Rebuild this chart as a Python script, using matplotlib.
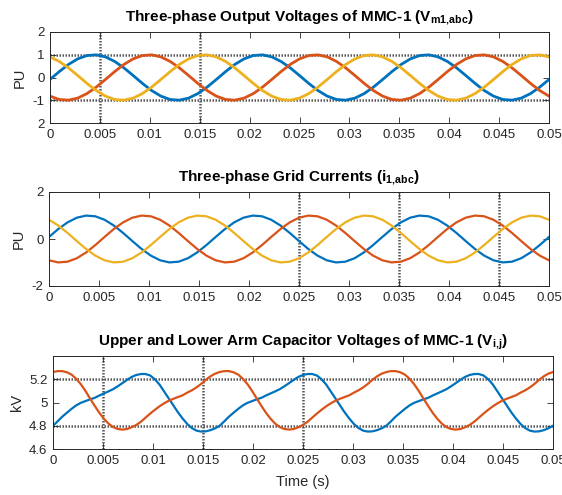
import numpy as np
import matplotlib
matplotlib.use("Agg")
import matplotlib.pyplot as plt

plt.rcParams["font.family"] = ["Liberation Sans", "DejaVu Sans"]
plt.rcParams["mathtext.fontset"] = "custom"
plt.rcParams["mathtext.rm"] = "Liberation Sans"
plt.rcParams["mathtext.bf"] = "Liberation Sans:bold"

# =========================
# DATA
# =========================
# sample times: 55 points over 0..0.05 s for the ac quantities
t_ac = np.linspace(0, 0.05, 55)
# 109 points over 0..0.05 s for the capacitor voltages
t_cap = np.linspace(0, 0.05, 109)

# MMC-1 output voltages (PU)
vm_a = [-0.087, 0.259, 0.574, 0.819, 0.966, 0.996, 0.906, 0.707, 0.423,
        0.087, -0.259, -0.574, -0.819, -0.966, -0.996, -0.906, -0.707, -0.423,
        -0.087, 0.259, 0.574, 0.819, 0.966, 0.996, 0.906, 0.707, 0.423,
        0.087, -0.259, -0.574, -0.819, -0.966, -0.996, -0.906, -0.707, -0.423,
        -0.087, 0.259, 0.574, 0.819, 0.966, 0.996, 0.906, 0.707, 0.423,
        0.087, -0.259, -0.574, -0.819, -0.966, -0.996, -0.906, -0.707, -0.423,
        -0.087]
vm_b = [-0.819, -0.966, -0.996, -0.906, -0.707, -0.423, -0.087, 0.259, 0.574,
        0.819, 0.966, 0.996, 0.906, 0.707, 0.423, 0.087, -0.259, -0.574,
        -0.819, -0.966, -0.996, -0.906, -0.707, -0.423, -0.087, 0.259, 0.574,
        0.819, 0.966, 0.996, 0.906, 0.707, 0.423, 0.087, -0.259, -0.574,
        -0.819, -0.966, -0.996, -0.906, -0.707, -0.423, -0.087, 0.259, 0.574,
        0.819, 0.966, 0.996, 0.906, 0.707, 0.423, 0.087, -0.259, -0.574,
        -0.819]
vm_c = [0.906, 0.707, 0.423, 0.087, -0.259, -0.574, -0.819, -0.966, -0.996,
        -0.906, -0.707, -0.423, -0.087, 0.259, 0.574, 0.819, 0.966, 0.996,
        0.906, 0.707, 0.423, 0.087, -0.259, -0.574, -0.819, -0.966, -0.996,
        -0.906, -0.707, -0.423, -0.087, 0.259, 0.574, 0.819, 0.966, 0.996,
        0.906, 0.707, 0.423, 0.087, -0.259, -0.574, -0.819, -0.966, -0.996,
        -0.906, -0.707, -0.423, -0.087, 0.259, 0.574, 0.819, 0.966, 0.996,
        0.906]

# grid currents (PU)
ig_a = [0.087, 0.423, 0.707, 0.906, 0.996, 0.966, 0.819, 0.574, 0.259,
        -0.087, -0.423, -0.707, -0.906, -0.996, -0.966, -0.819, -0.574, -0.259,
        0.087, 0.423, 0.707, 0.906, 0.996, 0.966, 0.819, 0.574, 0.259,
        -0.087, -0.423, -0.707, -0.906, -0.996, -0.966, -0.819, -0.574, -0.259,
        0.087, 0.423, 0.707, 0.906, 0.996, 0.966, 0.819, 0.574, 0.259,
        -0.087, -0.423, -0.707, -0.906, -0.996, -0.966, -0.819, -0.574, -0.259,
        0.087]
ig_b = [-0.906, -0.996, -0.966, -0.819, -0.574, -0.259, 0.087, 0.423, 0.707,
        0.906, 0.996, 0.966, 0.819, 0.574, 0.259, -0.087, -0.423, -0.707,
        -0.906, -0.996, -0.966, -0.819, -0.574, -0.259, 0.087, 0.423, 0.707,
        0.906, 0.996, 0.966, 0.819, 0.574, 0.259, -0.087, -0.423, -0.707,
        -0.906, -0.996, -0.966, -0.819, -0.574, -0.259, 0.087, 0.423, 0.707,
        0.906, 0.996, 0.966, 0.819, 0.574, 0.259, -0.087, -0.423, -0.707,
        -0.906]
ig_c = [0.819, 0.574, 0.259, -0.087, -0.423, -0.707, -0.906, -0.996, -0.966,
        -0.819, -0.574, -0.259, 0.087, 0.423, 0.707, 0.906, 0.996, 0.966,
        0.819, 0.574, 0.259, -0.087, -0.423, -0.707, -0.906, -0.996, -0.966,
        -0.819, -0.574, -0.259, 0.087, 0.423, 0.707, 0.906, 0.996, 0.966,
        0.819, 0.574, 0.259, -0.087, -0.423, -0.707, -0.906, -0.996, -0.966,
        -0.819, -0.574, -0.259, 0.087, 0.423, 0.707, 0.906, 0.996, 0.966,
        0.819]

# upper / lower arm capacitor voltages (kV)
vc_upper = [4.800, 4.838, 4.878, 4.912, 4.945, 4.975, 4.997, 5.012, 5.027, 5.040, 5.060, 5.078,
            5.096, 5.115, 5.140, 5.167, 5.195, 5.220, 5.237, 5.245, 5.245, 5.232, 5.200, 5.155,
            5.095, 5.035, 4.975, 4.915, 4.862, 4.815, 4.780, 4.758, 4.750, 4.752, 4.762, 4.778,
            4.800, 4.838, 4.878, 4.912, 4.945, 4.975, 4.997, 5.012, 5.027, 5.040, 5.060, 5.078,
            5.096, 5.115, 5.140, 5.167, 5.195, 5.220, 5.237, 5.245, 5.245, 5.232, 5.200, 5.155,
            5.095, 5.035, 4.975, 4.915, 4.862, 4.815, 4.780, 4.758, 4.750, 4.752, 4.762, 4.778,
            4.800, 4.838, 4.878, 4.912, 4.945, 4.975, 4.997, 5.012, 5.027, 5.040, 5.060, 5.078,
            5.096, 5.115, 5.140, 5.167, 5.195, 5.220, 5.237, 5.245, 5.245, 5.232, 5.200, 5.155,
            5.095, 5.035, 4.975, 4.915, 4.862, 4.815, 4.780, 4.758, 4.750, 4.752, 4.762, 4.778,
            4.800]
vc_lower = [5.262, 5.270, 5.270, 5.260, 5.240, 5.205, 5.158, 5.100, 5.035, 4.972, 4.912, 4.860,
            4.818, 4.788, 4.772, 4.767, 4.772, 4.787, 4.807, 4.835, 4.870, 4.905, 4.937, 4.967,
            4.993, 5.015, 5.032, 5.047, 5.062, 5.085, 5.105, 5.130, 5.160, 5.195, 5.225, 5.248,
            5.262, 5.270, 5.270, 5.260, 5.240, 5.205, 5.158, 5.100, 5.035, 4.972, 4.912, 4.860,
            4.818, 4.788, 4.772, 4.767, 4.772, 4.787, 4.807, 4.835, 4.870, 4.905, 4.937, 4.967,
            4.993, 5.015, 5.032, 5.047, 5.062, 5.085, 5.105, 5.130, 5.160, 5.195, 5.225, 5.248,
            5.262, 5.270, 5.270, 5.260, 5.240, 5.205, 5.158, 5.100, 5.035, 4.972, 4.912, 4.860,
            4.818, 4.788, 4.772, 4.767, 4.772, 4.787, 4.807, 4.835, 4.870, 4.905, 4.937, 4.967,
            4.993, 5.015, 5.032, 5.047, 5.062, 5.085, 5.105, 5.130, 5.160, 5.195, 5.225, 5.248,
            5.262]

# marker lines drawn on each panel
top_vlines = [0.005, 0.015]
top_hlines = [-1, 1]
mid_vlines = [0.025, 0.035, 0.045]
bot_vlines = [0.005, 0.015, 0.025]
bot_hlines = [4.8, 5.2]

x_ticks = [0, 0.005, 0.01, 0.015, 0.02, 0.025, 0.03, 0.035, 0.04, 0.045, 0.05]
x_ticklabels = ["0", "0.005", "0.01", "0.015", "0.02", "0.025", "0.03",
                "0.035", "0.04", "0.045", "0.05"]

C_BLUE = "#0072BD"
C_RED = "#D95319"
C_YEL = "#EDB120"
C_AX = "#262626"

W, H = 562, 495
fig = plt.figure(figsize=(W / 100, H / 100), dpi=100)


def px_axes(x0, y0, x1, y1):
    return fig.add_axes([x0 / W, 1 - y1 / H, (x1 - x0) / W, (y1 - y0) / H])


def style(ax):
    for s in ax.spines.values():
        s.set_color(C_AX)
        s.set_linewidth(0.7)
    ax.tick_params(direction="in", top=True, right=True, length=4, width=0.6,
                   colors=C_AX, labelsize=9.5, pad=4)
    ax.set_xlim(0, 0.05)
    ax.set_xticks(x_ticks)
    ax.set_xticklabels(x_ticklabels)


def markers(ax, vlines, hlines):
    kw = dict(color="0.35", linestyle=(0, (0.6, 0.6)), linewidth=1.8, zorder=1)
    for v in vlines:
        ax.axvline(v, **kw)
    for h in hlines:
        ax.axhline(h, **kw)


TITLE_KW = dict(fontsize=11, fontweight="bold", pad=8)

# =========================
# Top: output voltages
# =========================
ax1 = px_axes(50, 32, 549, 123)
style(ax1)
markers(ax1, top_vlines, top_hlines)
ax1.plot(t_ac, vm_a, color=C_BLUE, linewidth=2.0, zorder=2)
ax1.plot(t_ac, vm_b, color=C_RED, linewidth=2.0, zorder=2)
ax1.plot(t_ac, vm_c, color=C_YEL, linewidth=2.0, zorder=2)
ax1.set_ylim(-2, 2)
ax1.set_yticks([-2, -1, 0, 1, 2])
ax1.set_yticklabels(["2", "-1", "0", "1", "2"])
ax1.set_ylabel("PU", fontsize=10.5, color=C_AX, labelpad=4)
ax1.set_title(r"Three-phase Output Voltages of MMC-1 (V$_{\mathbf{m1{,}abc}}$)", **TITLE_KW)

# =========================
# Middle: grid currents
# =========================
ax2 = px_axes(49, 192, 549, 286)
style(ax2)
markers(ax2, mid_vlines, [])
ax2.plot(t_ac, ig_a, color=C_BLUE, linewidth=1.6, zorder=2)
ax2.plot(t_ac, ig_b, color=C_RED, linewidth=1.6, zorder=2)
ax2.plot(t_ac, ig_c, color=C_YEL, linewidth=1.6, zorder=2)
ax2.set_ylim(-2, 2)
ax2.set_yticks([-2, 0, 2])
ax2.set_yticklabels(["-2", "0", "2"])
ax2.set_ylabel("PU", fontsize=10.5, color=C_AX, labelpad=4)
ax2.set_title(r"Three-phase Grid Currents (i$_{\mathbf{1{,}abc}}$)", **TITLE_KW)

# =========================
# Bottom: capacitor voltages
# =========================
ax3 = px_axes(53, 356, 553, 449)
style(ax3)
markers(ax3, bot_vlines, bot_hlines)
ax3.plot(t_cap, vc_upper, color=C_BLUE, linewidth=1.6, zorder=2)
ax3.plot(t_cap, vc_lower, color=C_RED, linewidth=1.6, zorder=2)
ax3.set_ylim(4.6, 5.4)
ax3.set_yticks([4.6, 4.8, 5.0, 5.2])
ax3.set_yticklabels(["4.6", "4.8", "5", "5.2"])
ax3.set_ylabel("kV", fontsize=10.5, color=C_AX, labelpad=4)
ax3.set_xlabel("Time (s)", fontsize=10.5, color=C_AX, labelpad=6)
ax3.set_title(r"Upper and Lower Arm Capacitor Voltages of MMC-1 (V$_{\mathbf{i{,}j}}$)", **TITLE_KW)

fig.savefig("out.png", dpi=100)
plt.close(fig)
